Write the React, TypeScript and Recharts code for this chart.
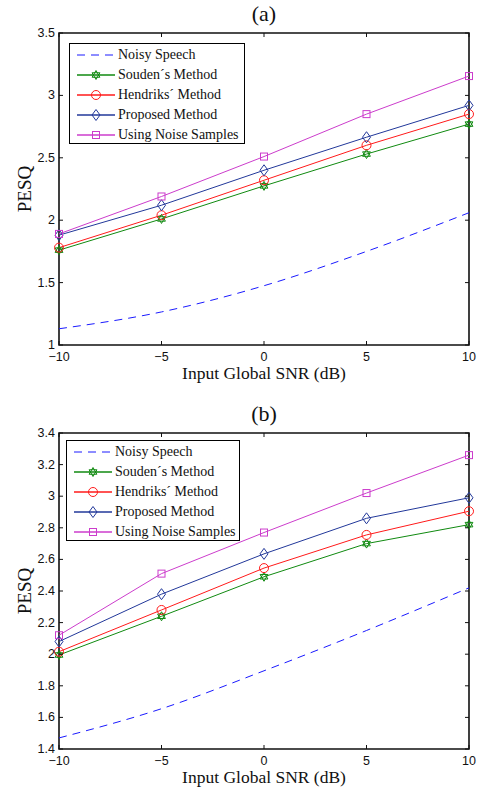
import React from "react";
import { LineChart, Line, XAxis, YAxis, ReferenceArea } from "recharts";

// x axis: input global SNR (dB)
const snr = [-10, -5, 0, 5, 10];
const snrTickLabels = ["\u221210", "\u22125", "0", "5", "10"];

const seriesNames = [
  "Noisy Speech",
  "Souden\u00b4s Method",
  "Hendriks\u00b4 Method",
  "Proposed Method",
  "Using Noise Samples",
];

// panel (a)
const noisyA = [1.13, 1.265, 1.475, 1.75, 2.06];
const soudenA = [1.76, 2.01, 2.275, 2.53, 2.77];
const hendriksA = [1.78, 2.04, 2.32, 2.6, 2.85];
const proposedA = [1.88, 2.12, 2.4, 2.665, 2.92];
const noiseSamplesA = [1.89, 2.19, 2.51, 2.85, 3.155];
const pesqTicksA = [1, 1.5, 2, 2.5, 3, 3.5];
const pesqTickLabelsA = ["1", "1.5", "2", "2.5", "3", "3.5"];

// panel (b)
const noisyB = [1.47, 1.655, 1.895, 2.15, 2.42];
const soudenB = [1.995, 2.24, 2.49, 2.7, 2.82];
const hendriksB = [2.016, 2.28, 2.545, 2.755, 2.905];
const proposedB = [2.08, 2.38, 2.635, 2.86, 2.99];
const noiseSamplesB = [2.12, 2.51, 2.77, 3.02, 3.26];
const pesqTicksB = [1.4, 1.6, 1.8, 2, 2.2, 2.4, 2.6, 2.8, 3, 3.2, 3.4];
const pesqTickLabelsB = ["1.4", "1.6", "1.8", "2", "2.2", "2.4", "2.6", "2.8", "3", "3.2", "3.4"];

const keys = ["noisy", "souden", "hendriks", "proposed", "samples"];
const colors = ["#1a1aff", "#108a10", "#ff1a1a", "#22389a", "#cc3ccc"];
const markers = ["none", "hexagram", "circle", "diamond", "square"];

const buildRows = (cols: number[][]) =>
  snr.map((x, i) => {
    const row: Record<string, number> = { snr: x };
    keys.forEach((k, j) => (row[k] = cols[j][i]));
    return row;
  });

const dataA = buildRows([noisyA, soudenA, hendriksA, proposedA, noiseSamplesA]);
const dataB = buildRows([noisyB, soudenB, hendriksB, proposedB, noiseSamplesB]);

const PLOT_LEFT = 59;
const PLOT_RIGHT = 469;
const Y_AXIS_W = 40;
const X_AXIS_H = 30;
const DASH = "8 6";
const serif = '"Liberation Serif", "Times New Roman", serif';
const sans = '"Liberation Sans", Arial, sans-serif';

function Marker({ kind, cx, cy, color }: { kind: string; cx: number; cy: number; color: string }) {
  if (kind === "circle") return <circle cx={cx} cy={cy} r={4.5} fill="none" stroke={color} strokeWidth={1} />;
  if (kind === "square")
    return <rect x={cx - 3.5} y={cy - 3.5} width={7} height={7} fill="none" stroke={color} strokeWidth={1} />;
  if (kind === "diamond")
    return (
      <polygon
        points={`${cx},${cy - 5.5} ${cx + 4},${cy} ${cx},${cy + 5.5} ${cx - 4},${cy}`}
        fill="none"
        stroke={color}
        strokeWidth={1}
      />
    );
  if (kind === "hexagram") {
    const r = 4.5;
    const tri = (rot: number) =>
      [0, 1, 2]
        .map((k) => {
          const a = rot + (k * 2 * Math.PI) / 3;
          return `${cx + r * Math.sin(a)},${cy - r * Math.cos(a)}`;
        })
        .join(" ");
    return (
      <g>
        <polygon points={tri(0)} fill="none" stroke={color} strokeWidth={1} />
        <polygon points={tri(Math.PI)} fill="none" stroke={color} strokeWidth={1} />
      </g>
    );
  }
  return null;
}

function Legend({ left, top, width }: { left: number; top: number; width: number }) {
  return (
    <div
      style={{
        position: "absolute",
        left,
        top,
        width,
        height: 101,
        border: "1.4px solid #000",
        background: "#fff",
        boxSizing: "border-box",
      }}
    >
      {seriesNames.map((name, i) => (
        <div key={name} style={{ position: "absolute", left: 0, top: 1 + i * 20, height: 20, width: "100%" }}>
          <svg width={42} height={20} style={{ position: "absolute", left: 6, top: 0 }}>
            <line
              x1={1}
              x2={39}
              y1={10}
              y2={10}
              stroke={colors[i]}
              strokeWidth={i === 0 ? 1 : 1.6}
              strokeDasharray={i === 0 ? DASH : undefined}
            />
            <Marker kind={markers[i]} cx={20} cy={10} color={colors[i]} />
          </svg>
          <span
            style={{
              position: "absolute",
              left: 48,
              top: 1,
              lineHeight: "18px",
              fontFamily: serif,
              fontSize: 14,
              color: "#111",
              whiteSpace: "nowrap",
            }}
          >
            {name}
          </span>
        </div>
      ))}
    </div>
  );
}

interface PanelProps {
  title: string;
  height: number;
  plotTop: number;
  plotBottom: number;
  data: Record<string, number>[];
  yTicks: number[];
  yTickLabels: string[];
  legendLeft: number;
  legendTop: number;
  legendWidth: number;
}

function Panel({ title, height, plotTop, plotBottom, data, yTicks, yTickLabels, legendLeft, legendTop, legendWidth }: PanelProps) {
  const yDomain = [yTicks[0], yTicks[yTicks.length - 1]];

  const XTick = (p: any) => {
    const x = p.x;
    const label = snrTickLabels[snr.indexOf(p.payload.value)];
    return (
      <g>
        <line x1={x} x2={x} y1={plotBottom} y2={plotBottom - 4} stroke="#111" />
        <line x1={x} x2={x} y1={plotTop} y2={plotTop + 4} stroke="#111" />
        <text x={x} y={plotBottom + 16} textAnchor="middle" fontFamily={sans} fontSize={12.5} fill="#111">
          {label}
        </text>
      </g>
    );
  };

  const YTick = (p: any) => {
    const y = p.y;
    const label = yTickLabels[yTicks.indexOf(p.payload.value)];
    return (
      <g>
        <line x1={PLOT_LEFT} x2={PLOT_LEFT + 4} y1={y} y2={y} stroke="#111" />
        <line x1={PLOT_RIGHT} x2={PLOT_RIGHT - 4} y1={y} y2={y} stroke="#111" />
        <text x={PLOT_LEFT - 4} y={y + 4} textAnchor="end" fontFamily={sans} fontSize={12.5} fill="#111">
          {label}
        </text>
      </g>
    );
  };

  return (
    <div style={{ position: "relative", width: 484, height }}>
      <LineChart
        width={484}
        height={height}
        data={data}
        margin={{
          top: plotTop,
          bottom: height - plotBottom - X_AXIS_H,
          left: PLOT_LEFT - Y_AXIS_W,
          right: 484 - PLOT_RIGHT,
        }}
      >
        <XAxis
          dataKey="snr"
          type="number"
          domain={[-10, 10]}
          ticks={snr}
          interval={0}
          height={X_AXIS_H}
          axisLine={false}
          tickLine={false}
          tick={XTick}
        />
        <YAxis
          type="number"
          domain={yDomain}
          ticks={yTicks}
          interval={0}
          width={Y_AXIS_W}
          axisLine={false}
          tickLine={false}
          tick={YTick}
        />
        <ReferenceArea
          x1={-10}
          x2={10}
          y1={yDomain[0]}
          y2={yDomain[1]}
          fill="none"
          fillOpacity={0}
          stroke="#111"
          strokeWidth={1.6}
          ifOverflow="visible"
        />
        {keys.map((k, i) => (
          <Line
            key={k}
            dataKey={k}
            type={i === 0 ? "monotone" : "linear"}
            stroke={colors[i]}
            strokeWidth={1}
            strokeDasharray={i === 0 ? DASH : undefined}
            isAnimationActive={false}
            dot={
              i === 0
                ? false
                : (d: any) => <Marker key={`${k}-${d.index}`} kind={markers[i]} cx={d.cx} cy={d.cy} color={colors[i]} />
            }
            activeDot={false}
          />
        ))}
      </LineChart>
      <div
        style={{
          position: "absolute",
          left: 0,
          width: 528,
          top: plotTop - 31,
          lineHeight: "24px",
          textAlign: "center",
          fontFamily: serif,
          fontSize: 22,
          color: "#111",
        }}
      >
        {title}
      </div>
      <div
        style={{
          position: "absolute",
          left: PLOT_LEFT,
          width: PLOT_RIGHT - PLOT_LEFT,
          top: plotBottom + 20,
          lineHeight: "17px",
          textAlign: "center",
          fontFamily: serif,
          fontSize: 17.5,
          color: "#111",
        }}
      >
        Input Global SNR (dB)
      </div>
      <div
        style={{
          position: "absolute",
          left: 25,
          top: (plotTop + plotBottom) / 2,
          transform: "translate(-50%, -50%) rotate(-90deg)",
          lineHeight: "20px",
          fontFamily: serif,
          fontSize: 19,
          color: "#111",
        }}
      >
        PESQ
      </div>
      <Legend left={legendLeft} top={legendTop} width={legendWidth} />
    </div>
  );
}

export default function App() {
  return (
    <div style={{ position: "absolute", left: 0, top: 0, width: 484, height: 790, background: "#fff" }}>
      <Panel
        title="(a)"
        height={400}
        plotTop={33}
        plotBottom={345}
        data={dataA}
        yTicks={pesqTicksA}
        yTickLabels={pesqTickLabelsA}
        legendLeft={69}
        legendTop={43}
        legendWidth={176}
      />
      <Panel
        title="(b)"
        height={390}
        plotTop={33}
        plotBottom={349}
        data={dataB}
        yTicks={pesqTicksB}
        yTickLabels={pesqTickLabelsB}
        legendLeft={66}
        legendTop={40}
        legendWidth={174}
      />
    </div>
  );
}
